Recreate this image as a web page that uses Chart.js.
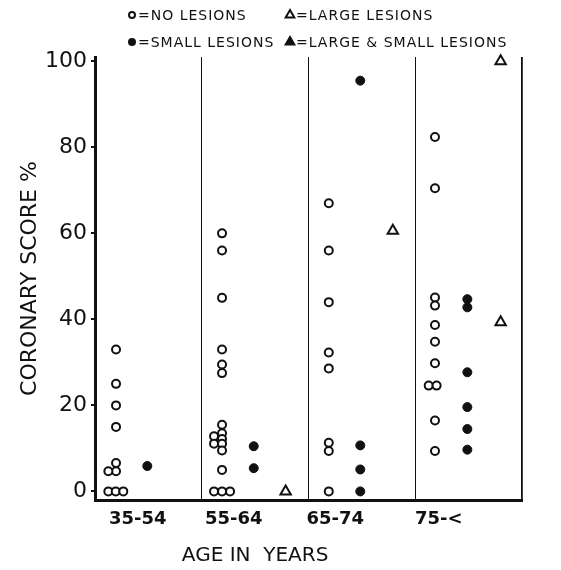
<!DOCTYPE html>
<html>
<head>
<meta charset="utf-8">
<script src="https://cdn.jsdelivr.net/npm/chart.js@4"></script>
<style>
  html, body { margin: 0; padding: 0; background: #fff; }
  #wrap { width: 561px; height: 570px; }
</style>
</head>
<body>
<div id="wrap"><canvas id="chart"></canvas></div>
<script>
const ageGroups = ['35-54', '55-64', '65-74', '75-<'];
const yTicks = [0, 20, 40, 60, 80, 100];

// x = place along the age axis (group i spans i .. i+1), y = coronary score %
const noLesionsX = [0.197, 0.197, 0.197, 0.197, 0.197, 0.197, 0.125, 0.125, 0.194, 0.265,
  1.19, 1.19, 1.19, 1.19, 1.19, 1.19, 1.19, 1.19, 1.19, 1.19, 1.19, 1.115, 1.115, 1.19, 1.115, 1.19, 1.265,
  2.19, 2.19, 2.19, 2.19, 2.19, 2.19, 2.19, 2.19,
  3.185, 3.185, 3.185, 3.185, 3.185, 3.185, 3.185, 3.126, 3.20, 3.185, 3.185];
const noLesionsY = [33, 25, 20, 15, 6.6, 4.7, 4.7, 0, 0, 0,
  60, 56, 45, 33, 29.5, 27.5, 15.5, 13.5, 12.2, 11.1, 9.5, 12.8, 11.1, 5, 0, 0, 0,
  67, 56, 44, 32.3, 28.6, 11.3, 9.4, 0,
  82.4, 70.5, 45.1, 43.2, 38.7, 34.8, 29.8, 24.6, 24.6, 16.5, 9.4];

const smallX = [0.49, 1.487, 1.487, 2.485, 2.485, 2.485, 2.485, 3.488, 3.488, 3.488, 3.488, 3.488, 3.488];
const smallY = [5.9, 10.5, 5.4, 95.5, 10.7, 5.1, 0, 44.7, 42.8, 27.7, 19.6, 14.5, 9.7];

const largeX = [1.786, 2.79, 3.80, 3.80];
const largeY = [0, 60.6, 39.3, 100];

const largeSmallX = [];
const largeSmallY = [];

// where the age group names sit under the axis
const labelAt = [0.40, 1.30, 2.25, 3.22];

const ink = '#111';
const font = 'DejaVu Sans';

function pts(xs, ys) {
  return xs.map((x, i) => ({ x: x, y: ys[i] }));
}

const legendAndTitle = {
  id: 'legendAndTitle',
  afterDraw(chart) {
    const ctx = chart.ctx;
    const cols = [132, 290];
    const rows = [15, 42];
    ctx.save();
    chart.data.datasets.forEach((ds, i) => {
      const x = cols[Math.floor(i / 2)];
      const y = rows[i % 2];
      ctx.fillStyle = ds.backgroundColor;
      ctx.strokeStyle = ink;
      Chart.helpers.drawPoint(ctx, {
        pointStyle: ds.pointStyle,
        radius: ds.pointStyle === 'triangle' ? 5 : 3,
        borderWidth: 1.5,
        rotation: 0
      }, x, y);
      ctx.fillStyle = ink;
      ctx.font = '14px "' + font + '"';
      ctx.textBaseline = 'middle';
      ctx.textAlign = 'left';
      ctx.letterSpacing = '1px';
      ctx.fillText('=' + ds.label, x + 6, y + 1);
    });
    const xs = chart.scales.x;
    ctx.letterSpacing = '0px';
    ctx.font = '20px "' + font + '"';
    ctx.textAlign = 'center';
    ctx.fillText('AGE IN  YEARS', xs.getPixelForValue(1.5), 556);
    ctx.restore();
  }
};

new Chart(document.getElementById('chart').getContext('2d'), {
  type: 'scatter',
  data: {
    datasets: [{
      label: 'NO LESIONS',
      data: pts(noLesionsX, noLesionsY),
      pointStyle: 'circle',
      pointRadius: 4,
      borderWidth: 2,
      borderColor: ink,
      backgroundColor: '#fff',
    }, {
      label: 'SMALL LESIONS',
      data: pts(smallX, smallY),
      pointStyle: 'circle',
      pointRadius: 4.5,
      borderWidth: 1,
      borderColor: ink,
      backgroundColor: ink,
    }, {
      label: 'LARGE LESIONS',
      data: pts(largeX, largeY),
      pointStyle: 'triangle',
      pointRadius: 6,
      borderWidth: 2,
      borderColor: ink,
      backgroundColor: '#fff',
    }, {
      label: 'LARGE & SMALL LESIONS',
      data: pts(largeSmallX, largeSmallY),
      pointStyle: 'triangle',
      pointRadius: 6,
      borderWidth: 2,
      borderColor: ink,
      backgroundColor: ink,
    }],
  },
  options: {
    responsive: true,
    maintainAspectRatio: false,
    animation: false,
    clip: false,
    layout: { padding: { top: 57, right: 39, left: 0, bottom: 0 } },
    plugins: {
      legend: { display: false },
      tooltip: { enabled: false },
    },
    scales: {
      x: {
        type: 'linear',
        position: 'bottom',
        weight: 0,
        min: 0,
        max: 4,
        afterBuildTicks: (s) => { s.ticks = [0, 1, 2, 3, 4].map((v) => ({ value: v })); },
        ticks: { display: false },
        grid: {
          color: (c) => (c.tick && c.tick.value === 0 ? 'rgba(0,0,0,0)' : ink),
          lineWidth: (c) => (c.tick && c.tick.value === 4 ? 1.8 : 1),
          drawTicks: false,
        },
        border: { color: ink, width: 3 },
        afterFit: (s) => { s.height = 0; },
      },
      x2: {
        type: 'linear',
        position: 'bottom',
        weight: 1,
        min: 0,
        max: 4,
        afterBuildTicks: (s) => { s.ticks = labelAt.map((v) => ({ value: v })); },
        ticks: {
          callback: (v, i) => ageGroups[i],
          color: ink,
          padding: 9,
          maxRotation: 0,
          font: { family: font, size: 18, weight: 'bold' },
        },
        grid: { display: false, drawTicks: false },
        border: { display: false },
        afterFit: (s) => { s.height = 70; },
      },
      y: {
        min: -2,
        max: 101,
        afterBuildTicks: (s) => { s.ticks = yTicks.map((v) => ({ value: v })); },
        ticks: {
          color: ink,
          padding: 4,
          font: { family: font, size: 22 },
        },
        grid: { drawOnChartArea: false, drawTicks: true, tickLength: 4, color: ink, lineWidth: 2 },
        border: { color: ink, width: 3 },
        title: {
          display: true,
          text: 'CORONARY SCORE %',
          color: ink,
          padding: { top: 17, bottom: 0 },
          font: { family: font, size: 22 },
        },
        afterFit: (s) => { s.width = 95; },
      },
    },
  },
  plugins: [legendAndTitle],
});
</script>
</body>
</html>
